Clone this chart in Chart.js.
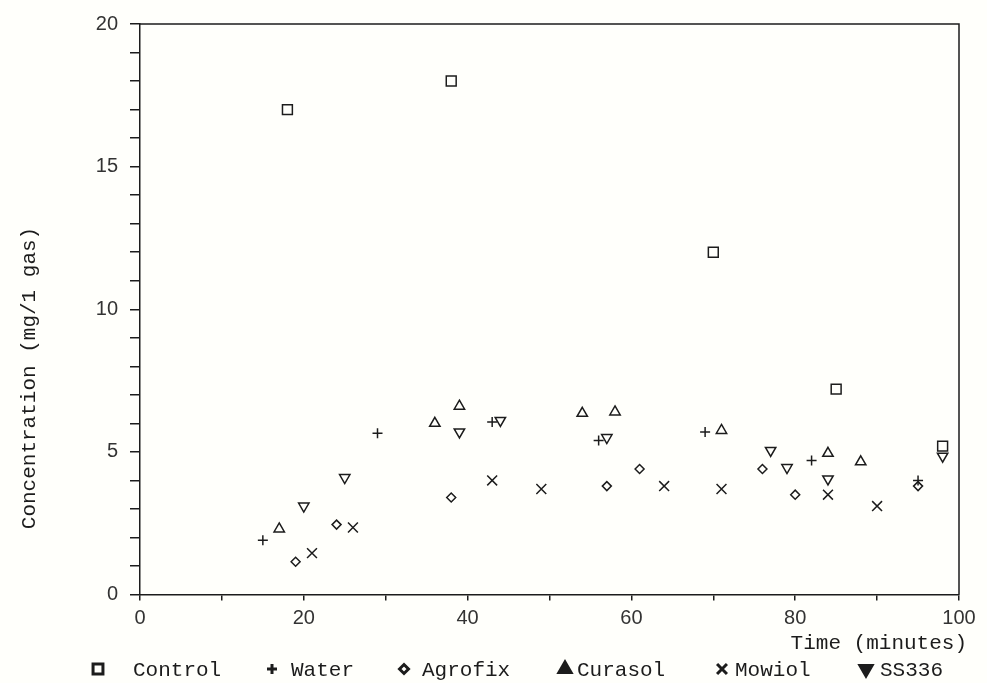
<!DOCTYPE html>
<html>
<head>
<meta charset="utf-8">
<script src="https://cdn.jsdelivr.net/npm/chart.js@4.4.0/dist/chart.umd.min.js"></script>
<style>
  html, body { margin: 0; background: #fffffb; }
  #wrap { width: 987px; height: 683px; }
</style>
</head>
<body>
<div id="wrap"><canvas id="chart" width="987" height="683"></canvas></div>
<script>
// gas concentration over time, one series per treatment
const controlX = [18, 38, 70, 85, 98];
const controlY = [17, 18, 12, 7.2, 5.2];
const waterX = [15, 29, 43, 56, 69, 82, 95];
const waterY = [1.9, 5.65, 6.05, 5.4, 5.7, 4.7, 4.0];
const agrofixX = [19, 24, 38, 57, 61, 76, 80, 95];
const agrofixY = [1.15, 2.45, 3.4, 3.8, 4.4, 4.4, 3.5, 3.8];
const curasolX = [17, 36, 39, 54, 58, 71, 84, 88];
const curasolY = [2.3, 6.0, 6.6, 6.35, 6.4, 5.75, 4.95, 4.65];
const mowiolX = [21, 26, 43, 49, 64, 71, 84, 90];
const mowiolY = [1.45, 2.35, 4.0, 3.7, 3.8, 3.7, 3.5, 3.1];
const ss336X = [20, 25, 39, 44, 57, 77, 79, 84, 98];
const ss336Y = [3.1, 4.1, 5.7, 6.1, 5.5, 5.05, 4.45, 4.05, 4.85];

const ink = '#1c1c1c';
const paper = '#fffffb';
const mono = '"Liberation Mono", "DejaVu Sans Mono", monospace';
const numFont = '"Liberation Sans", Arial, sans-serif';

function pts(xs, ys){ return xs.map((x,i)=>({x, y: ys[i]})); }

// marker style per series: [label, x, y, pointStyle, radius, rotation, legend x, text x, filled in legend]
const series = [
  ['Control', controlX, controlY, 'rect', 7, 0, 98, 133, false],
  ['Water', waterX, waterY, 'cross', 5, 0, 272, 291, false],
  ['Agrofix', agrofixX, agrofixY, 'rectRot', 4.5, 0, 404, 422, false],
  ['Curasol', curasolX, curasolY, 'triangle', 6, 0, 565, 577, true],
  ['Mowiol', mowiolX, mowiolY, 'crossRot', 7, 0, 722, 735, false],
  ['SS336', ss336X, ss336Y, 'triangle', 6, 180, 866, 880, true]
];

const datasets = series.map(s=>({
  label: s[0],
  data: pts(s[1], s[2]),
  pointStyle: s[3],
  pointRadius: s[4],
  pointRotation: s[5],
  pointBorderWidth: 1.5,
  pointBorderColor: ink,
  pointBackgroundColor: 'rgba(0,0,0,0)',
  showLine: false
}));

// box top/right, axis titles and the legend row underneath
const decor = {
  id: 'decor',
  afterDraw(chart){
    const {ctx, chartArea: a} = chart;
    ctx.save();
    ctx.strokeStyle = ink;
    ctx.lineWidth = 1.5;
    ctx.beginPath();
    ctx.moveTo(a.left, a.top);
    ctx.lineTo(a.right, a.top);
    ctx.lineTo(a.right, a.bottom);
    ctx.stroke();

    ctx.fillStyle = ink;
    ctx.font = '21px ' + mono;
    ctx.textBaseline = 'middle';
    ctx.textAlign = 'right';
    ctx.fillText('Time (minutes)', 967, 643);

    ctx.save();
    ctx.translate(29, 378);
    ctx.rotate(-Math.PI/2);
    ctx.textAlign = 'center';
    ctx.fillText('Concentration (mg/1 gas)', 0, 0);
    ctx.restore();

    ctx.textAlign = 'left';
    series.forEach(s=>{
      ctx.fillStyle = s[8] ? ink : paper;
      ctx.strokeStyle = ink;
      ctx.lineWidth = 3;
      Chart.helpers.drawPoint(ctx, {
        pointStyle: s[3], radius: s[4] + (s[8] ? 1 : 0), rotation: s[5], borderWidth: 3
      }, s[6], 669);
      ctx.fillStyle = ink;
      ctx.fillText(s[0], s[7], 670);
    });
    ctx.restore();
  }
};

new Chart(document.getElementById('chart'), {
  type: 'scatter',
  data: { datasets },
  options: {
    responsive: false,
    animation: false,
    layout: { padding: { top: 22.5, right: 28, left: 0, bottom: 0 } },
    plugins: { legend: { display: false }, tooltip: { enabled: false } },
    scales: {
      x: {
        type: 'linear', min: 0, max: 100,
        afterFit(scale){ scale.height = 88.5; },
        border: { display: true, color: ink, width: 1.5 },
        grid: { drawOnChartArea: false, drawTicks: true, tickLength: 6, color: ink, lineWidth: 1.5 },
        ticks: {
          stepSize: 10, autoSkip: false, maxRotation: 0, padding: 6,
          color: '#333', font: { family: numFont, size: 20 },
          callback: v => v % 20 === 0 ? String(v) : ''
        }
      },
      y: {
        type: 'linear', min: 0, max: 20,
        afterFit(scale){ scale.width = 140; },
        border: { display: true, color: ink, width: 1.5 },
        grid: { drawOnChartArea: false, drawTicks: true, tickLength: 10, color: ink, lineWidth: 1.5 },
        ticks: {
          stepSize: 1, autoSkip: false, padding: 12,
          color: '#333', font: { family: numFont, size: 20 },
          callback: v => v % 5 === 0 ? String(v) : ''
        }
      }
    }
  },
  plugins: [decor]
});
</script>
</body>
</html>
